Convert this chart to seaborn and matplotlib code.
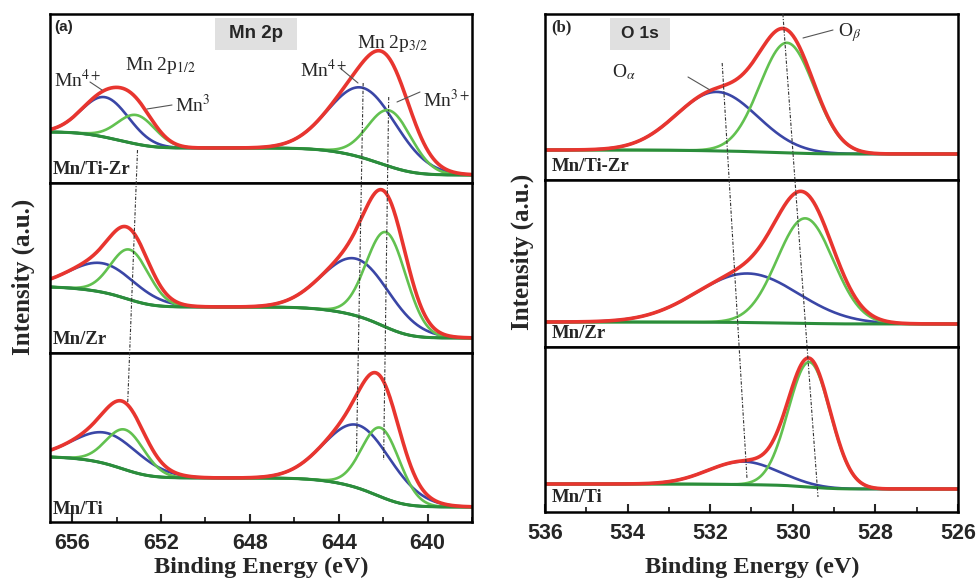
import numpy as np
import pandas as pd
import matplotlib
matplotlib.use("Agg")
import matplotlib.pyplot as plt
import seaborn as sns
from matplotlib.lines import Line2D
from matplotlib.patches import Rectangle
from matplotlib.ticker import MultipleLocator

# ---------------- data ----------------
samples = ["Mn/Ti-Zr", "Mn/Zr", "Mn/Ti"]

# Mn 2p fitted components: centre (eV), height (a.u.), FWHM (eV)
mn12_4_c = [654.5, 654.6, 654.4]; mn12_4_h = [40, 29, 31]; mn12_4_w = [2.5, 3.5, 3.5]
mn12_3_c = [653.1, 653.4, 653.6]; mn12_3_h = [29, 50, 40]; mn12_3_w = [2.0, 2.0, 2.0]
mn32_4_c = [642.9, 643.2, 643.1]; mn32_4_h = [70, 57, 63]; mn32_4_w = [3.6, 3.6, 3.6]
mn32_3_c = [641.7, 641.85, 642.1]; mn32_3_h = [56, 95, 69]; mn32_3_w = [2.3, 2.1, 2.0]
mn_bg_low = [8, 15, 15]
mn_bg_step32 = [27, 31, 29]
mn_bg_step12 = [16, 20, 21]

# O 1s fitted components
oa_c = [531.84, 531.1, 531.2]; oa_h = [59, 49, 23]; oa_w = [2.3, 2.9, 2.0]
ob_c = [530.14, 529.7, 529.6]; ob_h = [110, 105, 125]; ob_w = [1.55, 1.6, 1.2]
o_bg_low = [26, 23, 23]
o_bg_step = [4, 2, 5]

mn_ticks = [656, 652, 648, 644, 640]
o_ticks = [536, 534, 532, 530, 528, 526]

# ---------------- style ----------------
sns.set_style("white")
plt.rcParams["mathtext.fontset"] = "stix"
plt.rcParams["font.family"] = ["Liberation Serif", "DejaVu Serif"]

RED = "#e8352f"
BLUE = "#3a46a6"
LGREEN = "#62c150"
DGREEN = "#2b8d3b"

W, H = 978, 583
fig = plt.figure(figsize=(9.78, 5.83), dpi=100)


def rect(x0, y0, x1, y1):
    return [x0 / W, 1 - y1 / H, (x1 - x0) / W, (y1 - y0) / H]


def fx(x):
    return x / W


def fy(y):
    return 1 - y / H


def gauss(x, c, h, w):
    return h * np.exp(-4 * np.log(2) * (x - c) ** 2 / w ** 2)


def cumfrac(x, p):
    c = np.concatenate([[0], np.cumsum((p[1:] + p[:-1]) / 2 * np.diff(x))])
    return c / c[-1]


def draw(ax, x, bg, comps, env):
    for col, comp in comps:
        sns.lineplot(x=x, y=bg + comp, ax=ax, color=col, lw=1.9, sort=False)
    sns.lineplot(x=x, y=bg, ax=ax, color=DGREEN, lw=2.2, sort=False)
    sns.lineplot(x=x, y=env, ax=ax, color=RED, lw=2.6, sort=False)


def style_ax(ax, xlim, h, bottom, ticks, minor):
    ax.set_xlim(*xlim)
    ax.set_ylim(0, h)
    ax.set_yticks([])
    ax.set_ylabel("")
    ax.set_xlabel("")
    for s in ax.spines.values():
        s.set_linewidth(1.8)
        s.set_color("black")
        s.set_visible(True)
    if bottom:
        ax.set_xticks(ticks)
        ax.xaxis.set_minor_locator(MultipleLocator(minor))
        ax.tick_params(axis="x", which="major", direction="in", length=6,
                       width=1.5, pad=8, labelsize=15.5, bottom=True)
        ax.tick_params(axis="x", which="minor", direction="in", length=3.5,
                       width=1.3, bottom=True)
        for lab in ax.get_xticklabels():
            lab.set_fontfamily("Liberation Sans")
            lab.set_fontweight("bold")
    else:
        ax.set_xticks([])


# ---------------- left panel: Mn 2p ----------------
left_rows = [(14, 183), (183, 353), (353, 522)]
xm = np.linspace(638, 657, 700)
for i, (y0, y1) in enumerate(left_rows):
    ax = fig.add_axes(rect(50, y0, 472, y1))
    p12a = gauss(xm, mn12_4_c[i], mn12_4_h[i], mn12_4_w[i])
    p12b = gauss(xm, mn12_3_c[i], mn12_3_h[i], mn12_3_w[i])
    p32a = gauss(xm, mn32_4_c[i], mn32_4_h[i], mn32_4_w[i])
    p32b = gauss(xm, mn32_3_c[i], mn32_3_h[i], mn32_3_w[i])
    bg = (mn_bg_low[i] + mn_bg_step32[i] * cumfrac(xm, p32a + p32b)
          + mn_bg_step12[i] * cumfrac(xm, p12a + p12b))
    env = bg + p12a + p12b + p32a + p32b
    draw(ax, xm, bg, [(BLUE, p12a), (LGREEN, p12b), (BLUE, p32a), (LGREEN, p32b)], env)
    style_ax(ax, (657, 638), y1 - y0, i == 2, mn_ticks, 2)
    fig.text(fx(53), fy(y1 - 13), samples[i], fontsize=13.5, fontweight="bold",
             ha="left", va="center")

# ---------------- right panel: O 1s ----------------
right_rows = [(14, 180), (180, 347), (347, 512)]
xo = np.linspace(526, 536, 600)
for i, (y0, y1) in enumerate(right_rows):
    ax = fig.add_axes(rect(545, y0, 958, y1))
    pa = gauss(xo, oa_c[i], oa_h[i], oa_w[i])
    pb = gauss(xo, ob_c[i], ob_h[i], ob_w[i])
    bg = o_bg_low[i] + o_bg_step[i] * cumfrac(xo, pa + pb)
    env = bg + pa + pb
    draw(ax, xo, bg, [(BLUE, pa), (LGREEN, pb)], env)
    style_ax(ax, (536, 526), y1 - y0, i == 2, o_ticks, 1)
    fig.text(fx(552), fy(y1 - 14), samples[i], fontsize=13.5, fontweight="bold",
             ha="left", va="center")

# ---------------- guide lines (overlay) ----------------
ovl = fig.add_axes(rect(50, 14, 472, 522), facecolor="none")
ovl.set_xlim(657, 638); ovl.set_ylim(0, 508); ovl.axis("off")
gls = dict(color="#333333", lw=0.8, ls=(0, (3, 1.5, 1, 1.5)))
ovl.plot([642.9, 643.2], [439, 70], **gls)
ovl.plot([641.75, 641.98], [425, 62], **gls)
ovl.plot([653.06, 653.5], [372, 120], **gls)

ovr = fig.add_axes(rect(545, 14, 958, 512), facecolor="none")
ovr.set_xlim(536, 526); ovr.set_ylim(0, 498); ovr.axis("off")
ovr.plot([531.71, 531.11], [449, 34], **gls)
ovr.plot([530.24, 529.39], [498, 15], **gls)

# ---------------- annotations ----------------
ann = dict(fontsize=14, ha="left", va="center")
fig.text(fx(54), fy(80), "Mn$^{4+}$", **ann)
fig.text(fx(125), fy(65), "Mn 2p$_{1/2}$", **ann)
fig.text(fx(175), fy(105), "Mn$^{3}$", **ann)
fig.text(fx(357), fy(43), "Mn 2p$_{3/2}$", **ann)
fig.text(fx(300), fy(70), "Mn$^{4+}$", **ann)
fig.text(fx(423), fy(100), "Mn$^{3+}$", **ann)
fig.text(fx(612), fy(72), "O$_{\\alpha}$", **ann)
fig.text(fx(838), fy(33), "O$_{\\beta}$", **ann)

lead = dict(color="#555555", lw=0.8)
for (xa, ya, xb, yb) in [(90, 82, 102, 90), (147, 109, 172, 105),
                         (340, 68, 358, 83), (397, 102, 420, 92),
                         (688, 77, 710, 90), (803, 38, 833, 30)]:
    fig.add_artist(Line2D([fx(xa), fx(xb)], [fy(ya), fy(yb)], **lead))

# panel tags and element boxes
fig.text(fx(54), fy(27), "(a)", fontsize=11, fontweight="bold",
         family="Liberation Sans", ha="left", va="center")
fig.text(fx(551), fy(27), "(b)", fontsize=12, fontweight="bold",
         ha="left", va="center")
fig.add_artist(Rectangle((fx(215), fy(50)), (297 - 215) / W, 32 / H,
                         transform=fig.transFigure, fc="#e0e0e0", ec="none", zorder=0.5))
fig.text(fx(256), fy(34), "Mn 2p", fontsize=13.5, fontweight="bold",
         family="Liberation Sans", ha="center", va="center")
fig.add_artist(Rectangle((fx(610), fy(50)), (670 - 610) / W, 32 / H,
                         transform=fig.transFigure, fc="#e0e0e0", ec="none", zorder=0.5))
fig.text(fx(640), fy(34), "O 1s", fontsize=12.5, fontweight="bold",
         family="Liberation Sans", ha="center", va="center")

# axis titles
fig.text(fx(261), fy(567), "Binding Energy (eV)", fontsize=17.5, fontweight="bold",
         ha="center", va="center")
fig.text(fx(752), fy(567), "Binding Energy (eV)", fontsize=17.5, fontweight="bold",
         ha="center", va="center")
fig.text(fx(23), fy(277), "Intensity (a.u.)", fontsize=18, fontweight="bold",
         rotation=90, ha="center", va="center")
fig.text(fx(522), fy(252), "Intensity (a.u.)", fontsize=18, fontweight="bold",
         rotation=90, ha="center", va="center")

fig.savefig("out.png", dpi=100)
